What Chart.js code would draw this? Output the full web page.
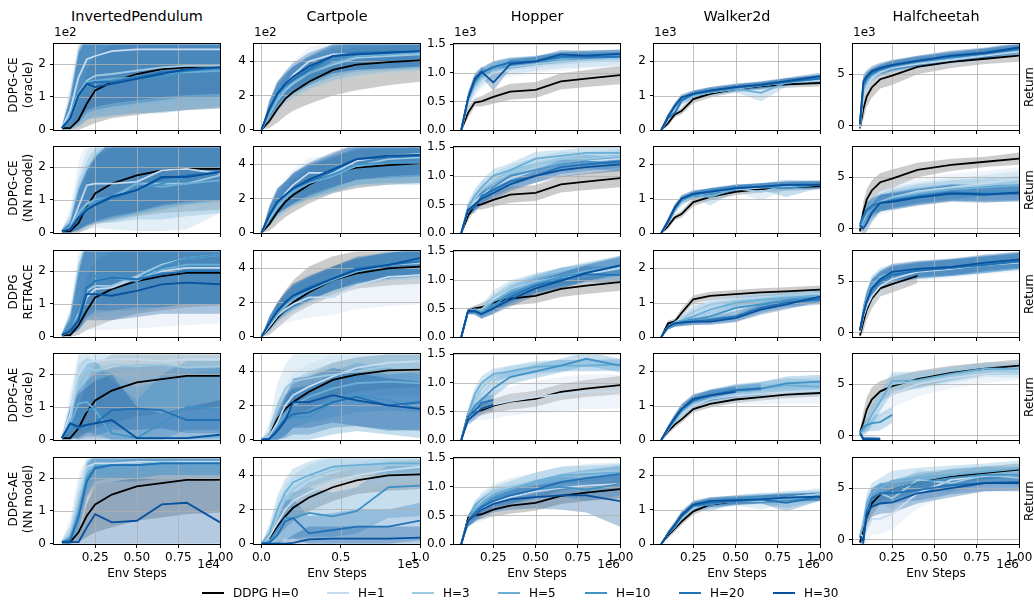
<!DOCTYPE html>
<html><head><meta charset="utf-8">
<script src="https://cdn.jsdelivr.net/npm/chart.js@4.4.1/dist/chart.umd.min.js"></script>
<style>
body{margin:0;background:#fff;width:1034px;height:601px;overflow:hidden;position:relative;font-family:'DejaVu Sans',sans-serif;color:#000}
canvas{position:absolute}
.t{position:absolute;white-space:nowrap;font-size:12px;line-height:14px}
.rot{position:absolute;white-space:nowrap;font-size:12px;line-height:15px;text-align:center;transform:translate(-50%,-50%) rotate(-90deg)}
.lg{position:absolute;height:0;border-top:2px solid #000}
</style></head><body>
<script>
// ---------------- labels ----------------
const envNames = ['InvertedPendulum','Cartpole','Hopper','Walker2d','Halfcheetah'];
const rowNames = [['DDPG-CE','(oracle)'],['DDPG-CE','(NN model)'],['DDPG','RETRACE'],['DDPG-AE','(oracle)'],['DDPG-AE','(NN model)']];
const seriesNames = ['DDPG H=0','H=1','H=3','H=5','H=10','H=20','H=30'];
const yExpLabels = ['1e2','1e2','1e3','1e3','1e3'];
const xExpLabels = ['1e4','1e5','1e6','1e6','1e6'];
const xAxisTitle = 'Env Steps';
const rightLabel = 'Return';

// ---------------- x steps (scaled units) ----------------
const stepsIP = [0.05,0.1,0.15,0.2,0.25,0.35,0.5,0.65,0.8,1.0];
const stepsCP = [0,0.05,0.1,0.15,0.2,0.3,0.45,0.6,0.8,1.0];
const stepsHW = [0.06,0.1,0.14,0.18,0.25,0.35,0.5,0.65,0.8,1.0];
const stepsHC = [0.06,0.08,0.1,0.13,0.18,0.25,0.4,0.6,0.8,1.0];

// ---------------- tick values ----------------
const yTicksIP = [0,1,2], yTicksCP = [0,2,4], yTicksHop = [0,0.5,1.0,1.5], yTicksWlk = [0,1,2], yTicksHC = [0,5];
const xTicksIP = [0.25,0.5,0.75,1.0], xTicksCP = [0,0.5,1.0], xTicksMj = [0.25,0.5,0.75,1.0];

// ================= ROW 1: DDPG-CE (oracle) =================
const ip_ceo_mean = [
[0.05,0.05,0.3,0.8,1.2,1.45,1.7,1.85,1.9,1.95],
[0.05,0.6,1.6,2.15,2.25,2.4,2.45,2.45,2.45,2.45],
[0.05,0.4,1.1,1.5,1.65,1.7,1.8,1.9,1.95,1.95],
[0.05,0.4,1.1,1.45,1.5,1.55,1.6,1.7,1.75,1.8],
[0.05,0.35,1.0,1.35,1.45,1.5,1.6,1.6,1.8,1.85],
[0.05,0.35,1.05,1.4,1.45,1.45,1.6,1.75,1.8,1.9],
[0.05,0.35,1.05,1.4,1.3,1.4,1.55,1.7,1.85,1.9]];
const ip_ceo_lo = [
[0,0,0,0.1,0.2,0.35,0.45,0.55,0.6,0.65],
[0,0.1,0.6,1.0,1.2,1.4,1.5,1.5,1.5,1.5],
[0,0,0.2,0.4,0.5,0.6,0.7,0.8,0.85,0.9],
[0,0,0.1,0.3,0.4,0.45,0.5,0.55,0.6,0.65],
[0,0,0.1,0.3,0.35,0.4,0.5,0.5,0.6,0.7],
[0,0.05,0.2,0.5,0.6,0.7,0.8,0.9,1.0,1.0],
[0,0.05,0.3,0.6,0.7,0.8,0.9,1.0,1.05,1.1]];
const ip_ceo_hi = [
[0.1,0.2,0.8,1.8,2.3,2.6,2.8,3,3,3],
[0.1,1.4,2.8,3,3,3,3,3,3,3],
[0.1,1.2,2.6,3,3,3,3,3,3,3],
[0.1,1.1,2.5,3,3,3,3,3,3,3],
[0.1,1.0,2.4,3,3,3,3,3,3,3],
[0.1,1.0,2.4,2.9,3,3,3,3,3,3],
[0.1,0.9,2.3,2.8,3,3,3,3,3,3]];

const cp_ceo_mean = [
[0,0.5,1.2,1.8,2.2,2.8,3.5,3.8,3.95,4.05],
[0,1.0,1.9,2.6,3.2,4.0,4.4,4.45,4.45,4.45],
[0,0.9,1.7,2.3,2.7,3.3,3.8,4.2,4.3,4.4],
[0,1.0,1.8,2.4,2.8,3.3,3.9,4.3,4.4,4.5],
[0,1.1,2.0,2.5,2.9,3.5,4.1,4.4,4.5,4.6],
[0,1.2,2.1,2.6,2.9,3.5,4.3,4.5,4.55,4.6],
[0,1.2,2.1,2.7,3.1,3.7,4.3,4.4,4.5,4.6]];
const cp_ceo_lo = [
[0,0.1,0.4,0.8,1.1,1.5,2.0,2.3,2.6,2.8],
[0,0.5,1.2,1.8,2.3,2.9,3.3,3.5,3.6,3.6],
[0,0.4,1.0,1.5,1.8,2.3,2.8,3.1,3.3,3.4],
[0,0.5,1.1,1.6,1.9,2.4,2.9,3.2,3.4,3.5],
[0,0.6,1.3,1.8,2.1,2.6,3.1,3.4,3.5,3.6],
[0,0.7,1.4,1.9,2.1,2.6,3.3,3.5,3.6,3.7],
[0,0.7,1.4,2.0,2.3,2.8,3.3,3.5,3.6,3.7]];
const cp_ceo_hi = [
[0,0.9,1.9,2.7,3.2,3.9,4.5,4.8,4.9,5.0],
[0,1.6,2.7,3.4,4.0,4.8,5.2,5.2,5.2,5.2],
[0,1.4,2.4,3.1,3.6,4.2,4.7,5.0,5.1,5.2],
[0,1.5,2.5,3.2,3.7,4.2,4.8,5.1,5.2,5.2],
[0,1.6,2.7,3.2,3.7,4.3,4.9,5.2,5.2,5.2],
[0,1.7,2.8,3.3,3.7,4.3,5.0,5.2,5.2,5.2],
[0,1.7,2.8,3.4,3.9,4.5,5.0,5.2,5.2,5.2]];

const hop_ceo_mean = [
[0,0.3,0.48,0.5,0.58,0.67,0.7,0.85,0.9,0.96],
[0,0.45,0.7,0.85,1.0,1.05,1.12,1.15,1.2,1.22],
[0,0.5,0.75,0.9,1.02,1.1,1.15,1.2,1.22,1.25],
[0,0.52,0.8,0.95,1.08,1.15,1.2,1.25,1.28,1.3],
[0,0.55,0.85,1.0,1.1,1.17,1.2,1.27,1.3,1.3],
[0,0.55,0.85,1.0,1.1,1.18,1.2,1.28,1.28,1.28],
[0,0.55,0.9,1.02,0.83,1.15,1.2,1.32,1.3,1.33]];
const hop_ceo_sd = [
[0,0.1,0.07,0.09,0.12,0.14,0.14,0.14,0.15,0.16],
[0,0.1,0.12,0.12,0.12,0.12,0.12,0.12,0.12,0.12],
[0,0.1,0.12,0.12,0.12,0.12,0.12,0.12,0.12,0.12],
[0,0.1,0.1,0.1,0.1,0.1,0.1,0.1,0.1,0.1],
[0,0.1,0.1,0.1,0.1,0.1,0.1,0.1,0.1,0.1],
[0,0.1,0.1,0.08,0.1,0.08,0.08,0.08,0.08,0.08],
[0,0.1,0.1,0.08,0.15,0.08,0.08,0.08,0.08,0.08]];

const wlk_ceo_mean = [
[0,0.2,0.45,0.55,0.9,1.05,1.2,1.28,1.33,1.37],
[0,0.3,0.6,0.8,1.0,1.1,1.2,1.3,1.38,1.45],
[0,0.35,0.65,0.85,1.0,1.12,1.22,1.3,1.38,1.48],
[0,0.35,0.65,0.85,1.02,1.1,1.2,1.08,1.38,1.5],
[0,0.35,0.7,0.9,1.05,1.12,1.22,1.3,1.4,1.5],
[0,0.35,0.5,0.85,1.05,1.15,1.25,1.3,1.4,1.5],
[0,0.4,0.7,0.95,1.05,1.15,1.25,1.32,1.42,1.57]];
const wlk_ceo_sd = [
[0,0.08,0.08,0.1,0.12,0.1,0.1,0.1,0.1,0.1],
[0,0.08,0.1,0.12,0.12,0.12,0.12,0.12,0.12,0.12],
[0,0.08,0.1,0.1,0.1,0.1,0.1,0.1,0.12,0.12],
[0,0.08,0.1,0.1,0.1,0.1,0.1,0.25,0.12,0.12],
[0,0.08,0.1,0.1,0.1,0.1,0.1,0.1,0.1,0.1],
[0,0.08,0.1,0.1,0.1,0.1,0.1,0.1,0.1,0.1],
[0,0.08,0.1,0.1,0.1,0.1,0.1,0.1,0.1,0.1]];

const hc_ceo_mean = [
[-0.3,1.6,2.8,3.7,4.5,4.85,5.7,6.2,6.5,6.8],
[-0.2,2.8,3.8,4.6,5.2,5.6,6.0,6.4,6.8,7.2],
[0,3.2,4.1,4.8,5.3,5.7,6.1,6.5,6.9,7.3],
[0,3.5,4.3,4.9,5.4,5.7,6.2,6.6,7.0,7.4],
[0.1,3.8,4.5,5.0,5.4,5.8,6.2,6.6,7.0,7.4],
[0.1,4.0,4.6,5.1,5.5,5.8,6.3,6.7,7.0,7.5],
[0.2,4.3,4.8,5.3,5.6,5.9,6.3,6.8,7.1,7.6]];
const hc_ceo_sd = [
[0.2,1.0,1.0,1.0,0.9,0.9,0.7,0.6,0.5,0.6],
[0.3,0.9,0.8,0.7,0.6,0.6,0.6,0.6,0.6,0.6],
[0.3,0.8,0.7,0.6,0.5,0.5,0.5,0.5,0.5,0.5],
[0.3,0.8,0.7,0.6,0.5,0.5,0.5,0.5,0.5,0.5],
[0.3,0.7,0.6,0.5,0.5,0.5,0.5,0.5,0.5,0.5],
[0.3,0.7,0.6,0.5,0.5,0.5,0.5,0.5,0.5,0.5],
[0.3,0.7,0.6,0.5,0.5,0.5,0.5,0.5,0.5,0.5]];

// ================= ROW 2: DDPG-CE (NN model) =================
const ip_cen_mean = [
[0.05,0.05,0.3,0.8,1.2,1.5,1.75,1.9,1.95,1.95],
[0.05,0.15,0.8,1.45,1.5,1.5,1.55,1.9,1.95,1.8],
[0.05,0.15,0.6,0.9,1.0,1.05,1.5,1.5,1.5,1.75],
[0.05,0.15,0.6,0.85,1.0,1.1,1.5,1.4,1.5,1.6],
[0.05,0.15,0.5,0.75,0.95,1.1,1.3,1.5,1.7,1.85],
[0.05,0.1,0.45,0.7,0.85,1.05,1.3,1.65,1.75,1.85],
[0.05,0.1,0.45,0.7,0.85,1.1,1.3,1.7,1.7,1.85]];
const ip_cen_lo = [
[0,0,0,0.1,0.25,0.35,0.5,0.6,0.65,0.7],
[0,0,0.2,0.6,0.7,0.75,0.8,1.0,1.1,1.0],
[0,0,0,0.1,0.15,0.1,0.05,0.05,0.1,0.6],
[0,0,0.1,0.2,0.3,0.3,0.4,0.4,0.5,0.6],
[0,0,0.1,0.2,0.3,0.4,0.55,0.7,0.85,0.95],
[0,0,0.05,0.2,0.3,0.45,0.6,0.8,0.9,1.0],
[0,0,0.1,0.25,0.35,0.5,0.65,0.85,0.95,1.0]];
const ip_cen_hi = [
[0.1,0.3,0.9,1.7,2.3,2.6,2.8,3,3,3],
[0.1,0.8,2.2,2.8,3,3,3,3,3,3],
[0.1,0.6,1.8,2.5,2.8,3,3,3,3,3],
[0.1,0.5,1.6,2.2,2.6,2.9,3,3,3,3],
[0.1,0.4,1.4,2.0,2.4,2.8,3,3,3,3],
[0.1,0.3,1.3,1.9,2.3,2.8,3,3,3,3],
[0.1,0.3,1.3,1.9,2.3,2.8,3,3,3,3]];

const cp_cen_mean = [
[0,0.5,1.2,1.8,2.2,2.8,3.5,3.8,3.95,4.05],
[0,0.9,1.6,2.3,2.8,3.5,3.5,4.2,4.5,4.6],
[0,0.8,1.5,2.0,2.5,3.0,3.5,3.9,4.3,4.4],
[0,0.9,1.6,2.0,2.4,2.9,3.3,3.9,4.1,4.1],
[0,1.0,1.7,2.2,2.5,3.0,3.4,4.0,4.1,4.1],
[0,1.1,1.8,2.2,2.6,3.0,3.6,4.3,4.4,4.5],
[0,1.0,1.8,2.2,2.6,3.1,3.7,4.3,4.5,4.55]];
const cp_cen_lo = [
[0,0.1,0.5,0.9,1.2,1.7,2.3,2.6,2.8,2.9],
[0,0.4,0.9,1.4,1.9,2.5,2.6,3.0,3.3,3.4],
[0,0.3,0.8,1.2,1.6,2.0,2.5,2.8,3.0,3.1],
[0,0.4,0.9,1.2,1.5,1.9,2.3,2.7,2.8,2.8],
[0,0.5,1.0,1.4,1.6,2.0,2.4,2.8,2.9,2.9],
[0,0.6,1.1,1.4,1.7,2.1,2.6,3.1,3.2,3.3],
[0,0.5,1.1,1.4,1.7,2.2,2.7,3.1,3.3,3.4]];
const cp_cen_hi = [
[0,0.9,1.9,2.6,3.1,3.8,4.5,4.8,4.9,5.0],
[0,1.5,2.4,3.2,3.7,4.4,4.5,5.2,5.3,5.4],
[0,1.3,2.3,2.9,3.4,4.0,4.5,4.9,5.2,5.3],
[0,1.4,2.4,2.9,3.3,3.9,4.3,4.9,5.1,5.1],
[0,1.5,2.5,3.0,3.4,4.0,4.4,5.0,5.1,5.1],
[0,1.6,2.6,3.0,3.5,4.0,4.6,5.2,5.3,5.4],
[0,1.5,2.6,3.0,3.5,4.1,4.7,5.2,5.3,5.4]];

const hop_cen_mean = [
[0,0.3,0.48,0.5,0.58,0.67,0.7,0.85,0.9,0.96],
[0,0.4,0.55,0.65,0.8,0.95,1.1,1.2,1.25,1.3],
[0,0.4,0.6,0.75,0.9,1.05,1.2,1.3,1.3,1.35],
[0,0.45,0.65,0.8,1.0,1.1,1.3,1.35,1.4,1.4],
[0,0.4,0.5,0.6,0.8,1.0,1.1,1.2,1.25,1.2],
[0,0.4,0.45,0.65,0.75,0.9,1.0,1.15,1.2,1.25],
[0,0.4,0.5,0.6,0.7,0.85,1.0,1.1,1.15,1.2]];
const hop_cen_sd = [
[0,0.1,0.07,0.09,0.12,0.14,0.14,0.14,0.15,0.16],
[0,0.1,0.12,0.14,0.14,0.14,0.14,0.14,0.14,0.14],
[0,0.1,0.12,0.14,0.14,0.14,0.12,0.12,0.12,0.12],
[0,0.1,0.12,0.12,0.12,0.12,0.12,0.1,0.1,0.1],
[0,0.1,0.12,0.12,0.12,0.12,0.12,0.12,0.12,0.12],
[0,0.1,0.1,0.12,0.12,0.12,0.12,0.12,0.12,0.12],
[0,0.1,0.1,0.12,0.12,0.12,0.12,0.12,0.12,0.12]];

const wlk_cen_mean = [
[0,0.2,0.45,0.55,0.9,1.05,1.2,1.28,1.33,1.37],
[0,0.3,0.65,0.9,1.1,1.2,1.28,1.32,1.35,1.4],
[0,0.3,0.65,0.9,1.1,1.2,1.3,1.2,1.38,1.42],
[0,0.3,0.7,0.95,1.12,1.05,1.3,1.35,1.38,1.4],
[0,0.3,0.7,0.95,1.1,1.2,1.3,1.35,1.3,1.42],
[0,0.35,0.7,1.0,1.12,1.22,1.32,1.35,1.4,1.42],
[0,0.35,0.75,1.0,1.15,1.2,1.3,1.35,1.4,1.4]];
const wlk_cen_sd = [
[0,0.08,0.08,0.1,0.12,0.1,0.1,0.1,0.1,0.1],
[0,0.08,0.1,0.12,0.12,0.12,0.12,0.12,0.12,0.12],
[0,0.08,0.1,0.1,0.1,0.1,0.1,0.25,0.12,0.12],
[0,0.08,0.1,0.1,0.1,0.25,0.1,0.1,0.1,0.12],
[0,0.08,0.1,0.1,0.1,0.1,0.1,0.1,0.25,0.1],
[0,0.08,0.1,0.1,0.1,0.1,0.1,0.1,0.1,0.1],
[0,0.08,0.1,0.1,0.1,0.1,0.1,0.1,0.1,0.1]];

const hc_cen_mean = [
[-0.3,1.6,2.8,3.7,4.5,4.85,5.7,6.2,6.5,6.8],
[0.1,0.8,1.4,2.0,2.5,3.0,3.6,4.0,4.4,4.8],
[0.1,0.8,1.5,2.0,2.6,3.0,3.5,3.9,4.2,4.6],
[0.2,1.0,1.5,2.0,2.5,2.9,3.4,3.8,4.0,4.2],
[0.2,1.0,1.6,2.0,2.4,2.8,3.2,3.5,3.5,3.6],
[0.4,1.2,1.8,2.2,2.5,2.7,3.1,3.5,3.4,3.4],
[0.3,0.0,0.5,1.5,2.5,2.6,3.0,3.4,3.3,3.5]];
const hc_cen_sd = [
[0.2,1.0,1.0,1.0,0.9,0.9,0.7,0.6,0.5,0.6],
[0.4,1.0,1.2,1.2,1.2,1.3,1.3,1.3,1.2,1.2],
[0.4,0.9,1.0,1.0,1.0,1.0,1.0,1.0,1.0,1.0],
[0.4,0.9,0.9,0.9,0.9,0.9,0.9,0.9,0.9,0.9],
[0.4,0.8,0.8,0.8,0.8,0.8,0.8,0.8,0.8,0.8],
[0.4,0.8,0.8,0.8,0.8,0.8,0.8,0.8,0.8,0.8],
[0.4,0.6,0.8,0.9,0.8,0.8,0.8,0.8,0.8,0.8]];

// ================= ROW 3: DDPG RETRACE =================
const ip_ret_mean = [
[0.05,0.05,0.35,0.8,1.2,1.45,1.7,1.85,1.95,1.95],
[0.05,0.15,0.6,1.2,1.45,1.5,1.8,2.0,2.1,2.1],
[0.05,0.2,0.7,1.4,1.55,1.55,1.85,2.2,2.4,2.5],
[0.05,0.2,0.6,1.5,1.7,1.8,1.7,2.05,2.2,2.2],
[0.05,0.25,0.6,1.6,1.85,1.9,1.75,2.15,2.4,2.5],
[0.05,0.2,0.5,1.5,1.7,1.8,1.75,1.9,2.0,2.0],
[0.05,0.15,0.5,1.3,1.3,1.25,1.4,1.6,1.65,1.6]];
const ip_ret_lo = [
[0,0,0.05,0.2,0.3,0.5,0.7,0.8,0.9,0.95],
[0,0,0.1,0.2,0.2,0.2,0.25,0.3,0.35,0.4],
[0,0,0.2,0.5,0.6,0.6,0.7,0.9,1.0,1.0],
[0,0,0.2,0.6,0.7,0.8,0.8,0.9,1.0,1.0],
[0,0.05,0.3,0.8,0.9,1.0,1.0,1.0,1.0,1.0],
[0,0.05,0.2,0.6,0.8,0.8,0.9,0.9,1.0,1.0],
[0,0.05,0.2,0.5,0.5,0.5,0.6,0.7,0.7,0.7]];
const ip_ret_hi = [
[0.1,0.3,1.0,1.8,2.3,2.6,2.8,3,3,3],
[0.1,0.9,2.7,3,3,3,3,3,3,3],
[0.1,0.8,2.4,3,3,3,3,3,3,3],
[0.1,0.7,2.2,3,3,3,3,3,3,3],
[0.1,0.7,2.2,3,3,3,3,3,3,3],
[0.1,0.6,2.0,3,3,3,3,3,3,3],
[0.1,0.5,1.9,2.9,2.9,3,3,3,3,3]];

const cp_ret_mean = [
[0,0.5,1.1,1.6,2.0,2.6,3.3,3.7,4.0,4.1],
[0,0.6,1.2,1.6,1.9,2.3,2.3,3.0,3.5,3.6],
[0,0.7,1.3,1.8,2.2,2.8,3.4,3.9,4.2,4.3],
[0,0.7,1.3,1.9,2.2,2.7,3.3,3.8,4.2,4.4],
[0,0.8,1.4,1.9,2.3,2.8,3.4,3.9,4.3,4.5],
[0,0.8,1.5,2.0,2.4,2.9,3.4,4.0,4.2,4.4],
[0,0.8,1.5,2.0,2.4,2.8,3.4,3.9,4.2,4.6]];
const cp_ret_lo = [
[0,0.1,0.5,0.9,1.3,1.8,2.4,2.8,3.0,3.1],
[0,0.2,0.5,0.8,0.9,1.1,1.3,1.6,1.8,1.9],
[0,0.3,0.8,1.2,1.5,2.0,2.6,3.0,3.3,3.3],
[0,0.3,0.8,1.2,1.5,2.0,2.5,3.0,3.3,3.5],
[0,0.4,0.9,1.3,1.6,2.1,2.7,3.1,3.5,3.6],
[0,0.4,1.0,1.4,1.7,2.2,2.7,3.2,3.4,3.5],
[0,0.4,1.0,1.4,1.7,2.1,2.7,3.1,3.4,3.7]];
const cp_ret_hi = [
[0,1.0,2.0,2.7,3.3,4.1,4.7,5.0,5.1,5.1],
[0,1.0,1.9,2.4,3.0,3.4,3.6,4.2,4.8,5.0],
[0,1.1,1.8,2.4,2.9,3.5,4.1,4.6,4.9,5.0],
[0,1.1,1.8,2.5,2.9,3.4,4.0,4.5,4.9,5.1],
[0,1.2,1.9,2.5,3.0,3.5,4.1,4.6,5.0,5.1],
[0,1.2,2.0,2.6,3.1,3.6,4.1,4.7,4.9,5.1],
[0,1.2,2.0,2.6,3.1,3.5,4.1,4.6,4.9,5.2]];

const hop_ret_mean = [
[0,0.45,0.5,0.52,0.6,0.67,0.72,0.84,0.9,0.96],
[0,0.45,0.48,0.45,0.65,0.85,0.95,1.05,1.1,1.2],
[0,0.45,0.48,0.48,0.7,0.85,0.97,1.05,1.12,1.22],
[0,0.45,0.47,0.45,0.62,0.8,0.95,1.05,1.15,1.25],
[0,0.45,0.47,0.42,0.55,0.75,0.92,1.05,1.12,1.25],
[0,0.45,0.45,0.4,0.5,0.7,0.9,1.0,1.1,1.08],
[0,0.45,0.45,0.4,0.5,0.65,0.85,0.98,1.12,1.25]];
const hop_ret_sd = [
[0,0.05,0.05,0.08,0.1,0.12,0.13,0.14,0.15,0.15],
[0,0.05,0.06,0.08,0.12,0.14,0.15,0.16,0.16,0.17],
[0,0.05,0.06,0.08,0.12,0.14,0.15,0.16,0.16,0.17],
[0,0.05,0.06,0.08,0.12,0.14,0.15,0.16,0.16,0.17],
[0,0.05,0.06,0.08,0.12,0.14,0.15,0.16,0.16,0.17],
[0,0.05,0.06,0.08,0.1,0.12,0.13,0.14,0.14,0.14],
[0,0.05,0.06,0.08,0.1,0.12,0.13,0.14,0.14,0.15]];

const wlk_ret_mean = [
[0,0.4,0.45,0.7,1.1,1.2,1.25,1.3,1.33,1.38],
[0,0.3,0.42,0.55,0.85,1.0,1.1,1.15,1.2,1.28],
[0,0.3,0.42,0.5,0.75,0.95,1.05,1.12,1.2,1.25],
[0,0.3,0.42,0.48,0.6,0.8,1.0,1.08,1.15,1.2],
[0,0.3,0.4,0.45,0.5,0.6,0.85,0.95,1.05,1.15],
[0,0.3,0.4,0.42,0.45,0.5,0.6,0.85,1.0,1.1],
[0,0.3,0.4,0.42,0.45,0.45,0.55,0.8,0.95,1.18]];
const wlk_ret_sd = [
[0,0.08,0.08,0.12,0.12,0.12,0.12,0.12,0.12,0.12],
[0,0.08,0.1,0.12,0.15,0.15,0.15,0.15,0.15,0.15],
[0,0.08,0.1,0.12,0.15,0.15,0.15,0.15,0.15,0.15],
[0,0.08,0.1,0.12,0.15,0.15,0.15,0.15,0.15,0.15],
[0,0.08,0.1,0.12,0.12,0.15,0.15,0.15,0.15,0.15],
[0,0.08,0.1,0.1,0.1,0.12,0.15,0.15,0.15,0.15],
[0,0.08,0.1,0.1,0.1,0.1,0.12,0.15,0.15,0.15]];

const hc_ret_mean = [
[-0.3,1.0,2.2,3.3,4.3,4.7,5.5,null,null,null],
[0,1.5,2.5,3.5,4.5,5.2,5.9,6.2,6.6,6.8],
[0.2,2.0,3.2,4.5,5.3,5.7,6.0,6.3,6.6,6.9],
[0.2,2.0,3.3,4.6,5.5,5.8,6.1,6.3,6.6,7.0],
[0.2,1.8,3.0,4.2,5.2,5.7,6.1,6.3,6.7,7.0],
[0.2,1.8,3.0,4.2,5.0,5.6,6.0,6.3,6.6,6.9],
[0.2,1.8,3.0,4.3,5.2,5.9,6.2,6.4,6.8,7.1]];
const hc_ret_sd = [
[0.2,1.0,1.0,1.0,0.8,0.8,0.7,null,null,null],
[0.3,1.0,1.1,1.1,1.0,0.9,0.9,0.9,0.9,0.9],
[0.3,0.8,0.9,0.9,0.8,0.8,0.8,0.8,0.8,0.8],
[0.3,0.8,0.9,0.9,0.8,0.8,0.8,0.8,0.8,0.8],
[0.3,0.8,0.9,0.9,0.8,0.8,0.8,0.8,0.8,0.8],
[0.3,0.8,0.9,0.9,0.8,0.8,0.8,0.8,0.8,0.8],
[0.3,0.8,0.9,0.9,0.8,0.8,0.8,0.8,0.8,0.8]];

// ================= ROW 4: DDPG-AE (oracle) =================
const ip_aeo_mean = [
[0.05,0.05,0.35,0.85,1.2,1.5,1.75,1.85,1.95,1.95],
[0.05,0.8,2.0,2.35,2.4,2.45,2.45,2.4,2.45,2.45],
[0.05,0.6,1.8,2.2,2.1,2.3,2.25,2.3,2.2,2.25],
[0.05,0.5,1.1,1.15,0.9,0.15,0.05,0.05,0.05,0.1],
[0.05,0.3,0.65,0.9,1.0,0.2,0.05,0.5,1.0,0.95],
[0.05,0.5,0.35,0.45,0.5,0.9,0.95,0.9,0.6,0.6],
[0.05,0.5,0.4,0.45,0.5,0.6,0.05,0.05,0.05,0.15]];
const ip_aeo_lo = [
[0,0,0.05,0.2,0.35,0.5,0.7,0.8,0.9,0.95],
[0,0.3,1.5,2.0,2.1,2.2,2.2,2.1,2.1,2.1],
[0,0.1,0.6,1.0,0.6,0.4,0.3,0.3,0.3,0.3],
[0,0,0.2,0.3,0.1,0,0,0,0,0],
[0,0,0.1,0.2,0.2,0,0,0,0.3,0.3],
[0,0,0,0.1,0.1,0.3,0.3,0.35,0.2,0.2],
[0,0.1,0,0,0,0,0,0,0,0]];
const ip_aeo_hi = [
[0.1,0.3,1.0,1.8,2.3,2.6,2.8,3,3,3],
[0.1,1.5,2.6,2.8,2.8,2.8,2.8,2.8,2.8,2.8],
[0.1,1.2,2.6,3,3,3,3,3,3,3],
[0.1,1.0,2.3,2.5,2.4,2.0,1.6,1.8,2.0,2.2],
[0.1,0.8,1.9,2.3,2.4,1.8,1.2,2.0,2.4,2.4],
[0.1,1.0,1.5,1.8,2.0,2.2,2.3,2.3,2.2,2.2],
[0.1,1.0,1.4,1.6,1.8,2.0,1.0,0.8,1.0,1.2]];

const cp_aeo_mean = [
[null,0.25,1.2,1.8,2.2,2.8,3.5,3.8,4.05,4.1],
[0,0.2,1.0,2.0,2.6,3.1,3.7,4.2,4.5,4.6],
[0,0.4,2.0,3.0,3.4,3.6,3.8,4.0,4.3,4.2],
[0,0.1,0.8,1.5,2.0,2.5,3.0,3.3,3.4,3.3],
[0,0.05,0.5,1.1,1.3,1.3,2.2,2.6,2.3,1.8],
[0,0.05,0.6,1.2,1.5,1.6,2.2,2.5,2.0,2.2],
[0,0.05,0.5,1.1,2.2,2.2,2.6,2.3,2.0,1.8]];
const cp_aeo_lo = [
[null,0,0.5,1.0,1.3,1.8,2.5,2.8,3.0,3.1],
[0,0,0.3,1.0,1.5,2.0,2.5,3.0,3.3,3.4],
[0,0,0.8,1.8,2.0,2.0,2.2,2.4,2.6,2.6],
[0,0,0,0.3,0.7,1.0,1.3,1.6,1.7,1.6],
[0,0,0,0,0,0,0.3,0.5,0.3,0.1],
[0,0,0,0.1,0.3,0.3,0.7,0.8,0.5,0.6],
[0,0,0,0.2,0.7,0.7,1.0,0.8,0.6,0.5]];
const cp_aeo_hi = [
[null,0.8,2.0,2.7,3.2,3.8,4.5,4.8,5.0,5.1],
[0,0.6,2.0,3.2,3.9,4.4,5.0,5.3,5.5,5.5],
[0,1.0,3.3,4.4,5.0,5.2,5.3,5.4,5.5,5.5],
[0,0.5,2.0,3.0,3.5,4.0,4.5,4.8,5.0,5.0],
[0,0.3,1.5,2.5,3.0,3.0,4.0,4.5,4.2,3.8],
[0,0.3,1.6,2.6,3.0,3.2,3.8,4.2,3.8,4.0],
[0,0.3,1.3,2.4,3.6,3.7,4.2,3.9,3.6,3.4]];

const hop_aeo_mean = [
[0,0.45,0.5,0.52,0.6,0.67,0.72,0.84,0.9,0.96],
[0,0.35,0.5,0.55,0.62,0.68,0.75,0.8,0.84,0.85],
[0,0.4,0.7,0.9,1.1,1.2,1.25,1.3,1.3,1.3],
[0,0.45,0.8,1.0,1.15,1.2,1.28,1.3,1.3,1.32],
[0,0.4,0.6,0.7,0.9,1.1,1.2,1.3,1.42,1.3],
[0,0.4,0.5,0.65,0.7,null,null,null,null,null],
[0,0.35,0.45,0.55,0.62,null,null,null,null,null]];
const hop_aeo_sd = [
[0,0.05,0.07,0.09,0.12,0.14,0.14,0.14,0.15,0.16],
[0,0.1,0.15,0.2,0.25,0.25,0.28,0.3,0.3,0.3],
[0,0.1,0.12,0.12,0.1,0.1,0.1,0.1,0.1,0.1],
[0,0.1,0.12,0.12,0.1,0.1,0.1,0.1,0.1,0.1],
[0,0.1,0.15,0.15,0.15,0.12,0.12,0.12,0.12,0.12],
[0,0.08,0.1,0.1,0.1,null,null,null,null,null],
[0,0.08,0.1,0.1,0.1,null,null,null,null,null]];

const wlk_aeo_mean = [
[0,0.25,0.45,0.6,0.9,1.05,1.18,1.25,1.32,1.37],
[0,0.3,0.55,0.75,1.0,1.2,1.3,1.35,1.4,1.45],
[0,0.3,0.55,0.8,1.05,1.2,1.35,1.4,1.45,1.5],
[0,0.3,0.6,0.85,1.1,1.3,1.4,1.5,1.6,1.55],
[0,0.3,0.6,0.85,1.15,1.3,1.45,1.5,1.65,1.7],
[0,0.35,0.6,0.9,1.15,1.3,1.45,1.5,null,null],
[0,0.35,0.65,0.9,1.2,1.3,1.4,null,null,null]];
const wlk_aeo_sd = [
[0,0.08,0.1,0.1,0.1,0.1,0.1,0.1,0.1,0.1],
[0,0.08,0.12,0.15,0.18,0.2,0.25,0.3,0.35,0.4],
[0,0.08,0.12,0.15,0.15,0.18,0.18,0.2,0.2,0.2],
[0,0.08,0.12,0.15,0.15,0.18,0.18,0.2,0.2,0.2],
[0,0.08,0.12,0.15,0.15,0.18,0.18,0.2,0.2,0.2],
[0,0.08,0.12,0.15,0.15,0.15,0.15,0.15,null,null],
[0,0.08,0.12,0.15,0.15,0.15,0.15,null,null,null]];

const hc_aeo_mean = [
[0.3,1.3,2.5,3.5,4.3,4.8,5.5,6.1,6.5,6.8],
[0.3,0.5,1.0,1.8,3.0,4.0,5.0,5.6,6.0,6.3],
[0.3,0.6,1.2,2.2,3.5,5.0,5.3,5.8,6.3,6.2],
[0.3,0.5,1.0,2.0,3.3,5.3,5.4,6.0,6.5,6.5],
[0.3,0.8,1.0,1.2,1.3,2.0,null,null,null,null],
[0.3,-0.3,-0.3,-0.3,-0.35,null,null,null,null,null],
[0.2,-0.4,-0.4,-0.4,-0.4,null,null,null,null,null]];
const hc_aeo_sd = [
[0.2,1.0,1.2,1.2,1.0,0.9,0.8,0.7,0.6,0.6],
[0.3,0.5,0.8,1.0,1.2,1.3,1.2,1.0,0.9,0.9],
[0.3,0.5,0.8,1.0,1.0,0.9,0.8,0.7,0.6,0.6],
[0.3,0.5,0.8,1.0,1.0,0.9,0.8,0.7,0.6,0.6],
[0.3,0.5,0.6,0.8,0.8,0.8,null,null,null,null],
[0.2,0.2,0.2,0.2,0.2,null,null,null,null,null],
[0.2,0.2,0.2,0.2,0.2,null,null,null,null,null]];

// ================= ROW 5: DDPG-AE (NN model) =================
const ip_aen_mean = [
[0.05,0.05,0.35,0.85,1.2,1.5,1.75,1.85,1.95,1.95],
[0.05,0.4,1.5,2.35,2.45,2.45,2.5,2.5,2.5,2.5],
[0.05,0.3,1.3,2.25,2.4,2.4,2.45,2.5,2.45,2.45],
[0.05,0.2,1.0,2.1,2.4,2.4,2.4,2.45,2.45,2.45],
[0.05,0.15,0.9,2.0,2.35,2.4,2.4,2.45,2.45,2.45],
[0.05,0.1,0.8,1.9,2.3,2.4,2.4,2.45,2.45,2.45],
[0.05,0.05,0.05,0.5,0.9,0.65,0.7,1.2,1.25,0.65]];
const ip_aen_lo = [
[0,0,0.05,0.2,0.35,0.5,0.7,0.8,0.9,0.95],
[0,0.1,0.9,2.0,2.2,2.2,2.3,2.3,2.3,2.3],
[0,0.05,0.7,1.9,2.1,2.1,2.2,2.3,2.2,2.2],
[0,0,0.5,1.6,2.0,2.0,2.0,2.1,2.1,2.1],
[0,0,0.4,1.5,1.9,2.0,2.0,2.1,2.1,2.1],
[0,0,0.3,1.4,1.8,1.9,1.9,2.0,2.0,2.0],
[0,0,0,0,0,0,0,0,0,0]];
const ip_aen_hi = [
[0.1,0.3,1.0,1.9,2.3,2.5,2.6,2.7,2.7,2.7],
[0.1,0.8,2.1,2.7,2.7,2.7,2.7,2.7,2.7,2.7],
[0.1,0.6,1.9,2.6,2.7,2.7,2.7,2.7,2.7,2.7],
[0.1,0.5,1.6,2.5,2.7,2.7,2.7,2.7,2.7,2.7],
[0.1,0.4,1.5,2.5,2.7,2.7,2.7,2.7,2.7,2.7],
[0.1,0.3,1.4,2.4,2.7,2.7,2.7,2.7,2.7,2.7],
[0.1,0.1,0.3,1.2,1.8,1.9,2.0,2.0,2.0,1.9]];

const cp_aen_mean = [
[null,0.3,1.0,1.6,2.1,2.7,3.3,3.7,4.0,4.05],
[0,0.4,1.2,2.0,2.5,3.0,3.6,4.0,4.3,4.5],
[0,0.5,1.6,2.6,3.2,3.8,4.3,4.5,4.6,4.6],
[0,0.6,2.0,3.0,3.6,4.0,4.5,4.6,4.7,4.7],
[0,0.1,0.8,1.5,1.5,1.8,1.6,1.9,3.3,3.4],
[0,0.05,0.5,1.3,1.5,0.6,0.8,1.0,1.0,1.35],
[0,0,0,0,0.05,0.25,0.3,0.3,0.3,0.35]];
const cp_aen_lo = [
[null,0,0.4,0.9,1.3,1.9,2.5,2.9,3.1,3.2],
[0,0,0.5,1.2,1.7,2.2,2.8,3.2,3.5,3.6],
[0,0.1,0.8,1.8,2.4,3.0,3.5,3.8,3.9,4.0],
[0,0.2,1.2,2.2,2.8,3.3,3.8,4.0,4.1,4.2],
[0,0,0,0.3,0.3,0.4,0.4,0.6,1.5,1.6],
[0,0,0,0.2,0.3,0,0,0,0,0.2],
[0,0,0,0,0,0,0,0,0,0]];
const cp_aen_hi = [
[null,0.7,1.7,2.4,2.9,3.6,4.1,4.5,4.8,4.9],
[0,0.9,2.0,2.9,3.4,3.9,4.5,4.8,5.0,5.2],
[0,1.0,2.4,3.4,4.0,4.6,5.1,5.2,5.3,5.3],
[0,1.1,2.8,3.8,4.4,4.8,5.2,5.3,5.3,5.3],
[0,0.5,1.8,2.8,3.0,3.3,3.0,3.3,4.6,4.7],
[0,0.3,1.3,2.5,2.6,1.6,1.8,2.0,2.0,2.4],
[0,0,0.1,0.2,0.5,1.0,1.0,1.0,1.0,1.0]];

const hop_aen_mean = [
[0,0.45,0.5,0.52,0.6,0.67,0.72,0.84,0.9,0.96],
[0,0.4,0.5,0.6,0.72,0.82,0.92,0.98,1.02,1.05],
[0,0.4,0.6,0.75,0.9,1.0,1.1,1.2,1.25,1.28],
[0,0.4,0.6,0.7,0.85,0.95,1.1,1.2,1.22,1.25],
[0,0.4,0.55,0.65,0.8,0.85,0.95,1.0,0.95,1.05],
[0,0.4,0.55,0.65,0.75,0.85,0.95,1.08,1.15,1.22],
[0,0.4,0.5,0.6,0.7,0.78,0.82,0.85,0.85,0.75]];
const hop_aen_sd = [
[0,0.05,0.07,0.09,0.12,0.14,0.14,0.14,0.15,0.16],
[0,0.1,0.15,0.2,0.22,0.22,0.22,0.22,0.22,0.22],
[0,0.1,0.15,0.15,0.15,0.15,0.15,0.15,0.15,0.15],
[0,0.1,0.15,0.15,0.15,0.15,0.15,0.15,0.15,0.15],
[0,0.1,0.15,0.15,0.15,0.15,0.15,0.18,0.2,0.2],
[0,0.1,0.15,0.15,0.15,0.15,0.15,0.15,0.15,0.15],
[0,0.1,0.12,0.15,0.15,0.18,0.2,0.25,0.3,0.45]];

const wlk_aen_mean = [
[0,0.25,0.45,0.65,0.95,1.15,1.25,1.3,1.35,1.38],
[0,0.3,0.5,0.75,1.05,1.18,1.25,1.3,1.35,1.45],
[0,0.3,0.5,0.75,1.1,1.2,1.28,1.25,1.35,1.45],
[0,0.3,0.55,0.8,1.1,1.2,1.25,1.3,1.3,1.4],
[0,0.3,0.5,0.8,1.1,1.15,1.3,1.35,1.35,1.38],
[0,0.3,0.55,0.8,1.12,1.2,1.25,1.3,1.2,1.38],
[0,0.3,0.55,0.85,1.15,1.25,1.28,1.3,1.35,1.38]];
const wlk_aen_sd = [
[0,0.08,0.1,0.1,0.1,0.1,0.1,0.1,0.1,0.1],
[0,0.08,0.1,0.12,0.12,0.15,0.15,0.15,0.15,0.2],
[0,0.08,0.1,0.12,0.12,0.15,0.15,0.25,0.15,0.15],
[0,0.08,0.1,0.12,0.12,0.12,0.12,0.12,0.25,0.15],
[0,0.08,0.1,0.12,0.12,0.2,0.12,0.12,0.12,0.12],
[0,0.08,0.1,0.12,0.12,0.12,0.12,0.12,0.25,0.12],
[0,0.08,0.1,0.12,0.12,0.12,0.12,0.12,0.12,0.12]];

const hc_aen_mean = [
[-0.3,1.0,2.2,3.5,4.4,4.8,5.5,6.1,6.5,6.8],
[0.5,0.3,1.0,2.0,2.0,2.5,4.5,5.8,6.2,6.3],
[0.3,1.5,3.0,4.0,4.5,4.0,5.8,5.5,6.3,6.0],
[0.3,1.5,3.5,4.5,5.0,5.7,6.0,6.3,6.6,6.9],
[0.3,0.0,2.5,4.0,4.5,4.8,5.5,6.0,6.3,6.3],
[0.3,0.0,2.8,4.0,4.5,4.5,4.8,5.3,5.5,5.6],
[0.3,-0.2,2.5,3.2,3.5,3.6,4.5,5.0,5.5,5.5]];
const hc_aen_sd = [
[0.2,1.0,1.2,1.2,1.0,0.9,0.8,0.7,0.6,0.6],
[0.5,1.0,1.5,1.5,1.5,1.5,1.5,1.2,1.0,1.0],
[0.3,0.8,1.0,1.0,1.0,1.0,1.0,0.9,0.8,0.8],
[0.3,0.8,1.0,1.0,1.0,1.0,1.0,0.9,0.8,0.8],
[0.3,0.8,1.0,1.0,1.0,1.0,1.0,0.9,0.8,0.8],
[0.3,0.8,1.0,1.0,1.0,1.0,1.0,0.9,0.8,0.8],
[0.3,0.8,1.0,1.0,1.0,1.0,1.0,0.9,0.8,0.8]];

// ---------------- styles & layout (not data) ----------------
const lineColors = ['#000000','#c6dbef','#9ecae1','#6baed6','#4292c6','#2171b5','#08519c'];
const bandAlpha = [0.2,0.3,0.3,0.3,0.3,0.3,0.3];
const colLeft = [54,254,454,654,853];
const rowTop = [39,142,246,349,453];
const PW = 166, PH = 91;
const PAD_L = 50, PAD_T = 6, PAD_R = 22, PAD_B = 26;
const FONT = "'DejaVu Sans', sans-serif";

function hexA(hex,a){const n=parseInt(hex.slice(1),16);return `rgba(${n>>16&255},${n>>8&255},${n&255},${a})`;}
function offsetBand(mean, sd, sign){return mean.map((r,i)=>r.map((v,j)=>(v==null||sd[i][j]==null)?null:+(v+sign*sd[i][j]).toFixed(4)));}
function panelFromSd(mean, sd){return [mean, offsetBand(mean,sd,-1), offsetBand(mean,sd,1)];}

const envCfg = [
 {steps:stepsIP, xmin:0.0025, xmax:1.0, ymin:-0.01, ymax:2.61, yt:yTicksIP, yd:0, xt:xTicksIP, xd:2},
 {steps:stepsCP, xmin:-0.047, xmax:1.0, ymin:-0.02, ymax:5.0, yt:yTicksCP, yd:0, xt:xTicksCP, xd:1},
 {steps:stepsHW, xmin:0.017, xmax:1.0, ymin:0, ymax:1.5, yt:yTicksHop, yd:1, xt:xTicksMj, xd:2},
 {steps:stepsHW, xmin:0.017, xmax:1.0, ymin:0, ymax:2.5, yt:yTicksWlk, yd:0, xt:xTicksMj, xd:2},
 {steps:stepsHC, xmin:0.019, xmax:1.0, ymin:-0.45, ymax:7.92, yt:yTicksHC, yd:0, xt:xTicksMj, xd:2}
];

const panels = [
 [[ip_ceo_mean,ip_ceo_lo,ip_ceo_hi],[cp_ceo_mean,cp_ceo_lo,cp_ceo_hi],panelFromSd(hop_ceo_mean,hop_ceo_sd),panelFromSd(wlk_ceo_mean,wlk_ceo_sd),panelFromSd(hc_ceo_mean,hc_ceo_sd)],
 [[ip_cen_mean,ip_cen_lo,ip_cen_hi],[cp_cen_mean,cp_cen_lo,cp_cen_hi],panelFromSd(hop_cen_mean,hop_cen_sd),panelFromSd(wlk_cen_mean,wlk_cen_sd),panelFromSd(hc_cen_mean,hc_cen_sd)],
 [[ip_ret_mean,ip_ret_lo,ip_ret_hi],[cp_ret_mean,cp_ret_lo,cp_ret_hi],panelFromSd(hop_ret_mean,hop_ret_sd),panelFromSd(wlk_ret_mean,wlk_ret_sd),panelFromSd(hc_ret_mean,hc_ret_sd)],
 [[ip_aeo_mean,ip_aeo_lo,ip_aeo_hi],[cp_aeo_mean,cp_aeo_lo,cp_aeo_hi],panelFromSd(hop_aeo_mean,hop_aeo_sd),panelFromSd(wlk_aeo_mean,wlk_aeo_sd),panelFromSd(hc_aeo_mean,hc_aeo_sd)],
 [[ip_aen_mean,ip_aen_lo,ip_aen_hi],[cp_aen_mean,cp_aen_lo,cp_aen_hi],panelFromSd(hop_aen_mean,hop_aen_sd),panelFromSd(wlk_aen_mean,wlk_aen_sd),panelFromSd(hc_aen_mean,hc_aen_sd)]
];

// ---------------- plugins ----------------
const gridPlugin = {
 id:'mplGrid',
 afterDatasetDraw(chart,args){
  const ds = chart.data.datasets[args.index];
  if(!ds._gridAfter) return;
  const {ctx, chartArea:a, scales} = chart;
  const cfg = chart.options.plugins.mplGrid;
  ctx.save();
  ctx.beginPath(); ctx.rect(a.left,a.top,a.right-a.left,a.bottom-a.top); ctx.clip();
  ctx.strokeStyle = '#b0b0b0'; ctx.lineWidth = 0.8;
  ctx.beginPath();
  cfg.xt.forEach(v=>{const p=Math.round(scales.x.getPixelForValue(v))+0.5; ctx.moveTo(p,a.top); ctx.lineTo(p,a.bottom);});
  cfg.yt.forEach(v=>{const p=Math.round(scales.y.getPixelForValue(v))+0.5; ctx.moveTo(a.left,p); ctx.lineTo(a.right,p);});
  ctx.stroke();
  ctx.restore();
 }
};
const spinePlugin = {
 id:'spines',
 afterDraw(chart){
  const {ctx, chartArea:a} = chart;
  ctx.save(); ctx.strokeStyle='#000'; ctx.lineWidth=1;
  ctx.strokeRect(Math.round(a.left)-0.5, Math.round(a.top)-0.5, Math.round(a.right-a.left)+1, Math.round(a.bottom-a.top)+1);
  ctx.restore();
 }
};

Chart.defaults.font.family = FONT;
Chart.defaults.font.size = 12;
Chart.defaults.color = '#000';

function pts(steps, ys){return steps.map((x,i)=>({x:x, y:ys[i]}));}

function addText(txt, css, cls){const d=document.createElement('div');d.className=cls||'t';d.textContent=txt;Object.assign(d.style,css);document.body.appendChild(d);return d;}

for(let r=0;r<5;r++){
 for(let c=0;c<5;c++){
  const env = envCfg[c];
  const [mean, lo, hi] = panels[r][c];
  const datasets = [];
  for(let i=0;i<7;i++){
   datasets.push({data:pts(env.steps,lo[i]), borderWidth:0, borderColor:'rgba(0,0,0,0)', pointRadius:0, fill:false, order:100-i, _gridAfter:(i===6)});
   datasets.push({data:pts(env.steps,hi[i]), borderWidth:0, borderColor:'rgba(0,0,0,0)', pointRadius:0, fill:'-1', backgroundColor:hexA(lineColors[i],bandAlpha[i]), order:100-i});
  }
  for(let i=0;i<7;i++){
   datasets.push({data:pts(env.steps,mean[i]), borderColor:lineColors[i], borderWidth:1.8, pointRadius:0, fill:false, order:10-i, tension:0});
  }
  const cv = document.createElement('canvas');
  const W = PAD_L+PW+PAD_R, H = PAD_T+PH+PAD_B;
  cv.width = W; cv.height = H;
  cv.style.left = (colLeft[c]-PAD_L)+'px'; cv.style.top = (rowTop[r]-PAD_T)+'px';
  cv.style.width = W+'px'; cv.style.height = H+'px';
  document.body.appendChild(cv);
  const isBottom = (r===4);
  new Chart(cv, {
   type:'line',
   data:{datasets},
   options:{
    responsive:false, animation:false, events:[], devicePixelRatio:1,
    layout:{padding:{left:0,right:PAD_R,top:PAD_T,bottom:0}},
    plugins:{legend:{display:false}, tooltip:{enabled:false}, mplGrid:{xt:env.xt, yt:env.yt}},
    scales:{
     x:{type:'linear', min:env.xmin, max:env.xmax,
        afterBuildTicks:s=>{s.ticks=env.xt.map(v=>({value:v}));},
        afterFit:s=>{s.height=PAD_B;},
        ticks:{display:isBottom, autoSkip:false, maxRotation:0, minRotation:0, padding:3, font:{size:12}, color:'#000', callback:v=>Number(v).toFixed(env.xd)},
        grid:{drawOnChartArea:false, drawTicks:true, tickLength:4, tickColor:'#000', tickWidth:1},
        border:{display:false}},
     y:{type:'linear', min:env.ymin, max:env.ymax,
        afterBuildTicks:s=>{s.ticks=env.yt.map(v=>({value:v}));},
        afterFit:s=>{s.width=PAD_L;},
        ticks:{autoSkip:false, padding:4, font:{size:12}, color:'#000', callback:v=>Number(v).toFixed(env.yd)},
        grid:{drawOnChartArea:false, drawTicks:true, tickLength:4, tickColor:'#000', tickWidth:1},
        border:{display:false}}
    }
   },
   plugins:[gridPlugin, spinePlugin]
  });
 }
}

// ---------------- titles, labels ----------------
for(let c=0;c<5;c++){
 const cx = colLeft[c]+PW/2;
 addText(envNames[c], {left:(cx-100)+'px', width:'200px', textAlign:'center', top:'7px', fontSize:'14.4px', lineHeight:'18px'});
 addText(yExpLabels[c], {left:colLeft[c]+'px', top:'25px'});
 addText(xAxisTitle, {left:(cx-60)+'px', width:'120px', textAlign:'center', top:'566px'});
 addText(xExpLabels[c], {left:(colLeft[c]+PW-60)+'px', width:'60px', textAlign:'right', top:'557px'});
}
for(let r=0;r<5;r++){
 const cy = rowTop[r]+PH/2;
 const d = document.createElement('div'); d.className='rot';
 d.innerHTML = rowNames[r].map(s=>'<div>'+s+'</div>').join('');
 d.style.left='21px'; d.style.top=cy+'px';
 document.body.appendChild(d);
 addText(rightLabel, {left:'1029px', top:(cy+2)+'px'}, 'rot');
}

// ---------------- legend ----------------
const legendLineX = [202,327,412,498,585,679,773];
seriesNames.forEach((name,i)=>{
 const l=document.createElement('div'); l.className='lg';
 Object.assign(l.style,{left:legendLineX[i]+'px', top:'592px', width:'22px', borderTopColor:lineColors[i]});
 document.body.appendChild(l);
 addText(name, {left:(legendLineX[i]+31)+'px', top:'586px'});
});
</script>
</body></html>
